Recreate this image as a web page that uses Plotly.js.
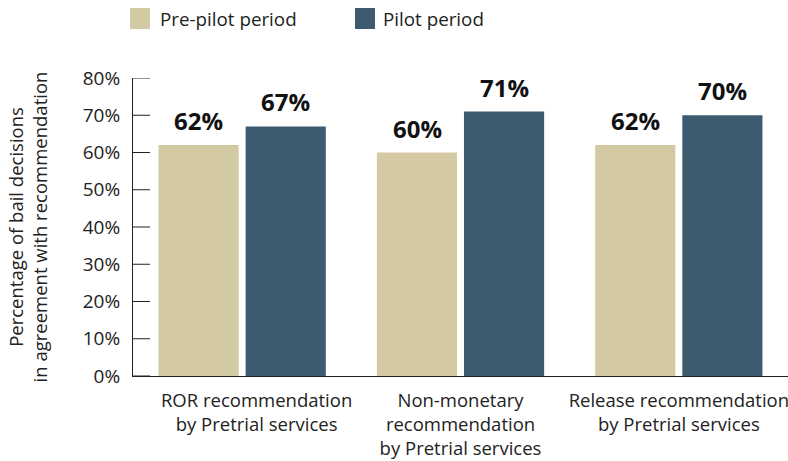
<!DOCTYPE html>
<html>
<head>
<meta charset="utf-8">
<script src="https://cdn.plot.ly/plotly-3.0.1.min.js"></script>
<style>
  html, body { margin: 0; padding: 0; background: #fff; }
  #chart { width: 788px; height: 461px; }
</style>
</head>
<body>
<div id="chart"></div>
<script>
// Data
const categories = [
  "ROR recommendation<br>by Pretrial services",
  "Non-monetary<br>recommendation<br>by Pretrial services",
  "Release recommendation<br>by Pretrial services"
];
const seriesNames = ["Pre-pilot period", "Pilot period"];
const prePilot = [62, 60, 62];
const pilot = [67, 71, 70];
const yTickVals = [0, 10, 20, 30, 40, 50, 60, 70, 80];
const yTickText = ["0%", "10%", "20%", "30%", "40%", "50%", "60%", "70%", "80%"];

const colors = ["#d3c9a3", "#3d5b6e"];
const fontFam = "Open Sans, Lato, sans-serif";

const traces = [prePilot, pilot].map((vals, i) => ({
  type: "bar",
  x: categories,
  y: vals,
  name: seriesNames[i],
  marker: { color: colors[i] },
  hoverinfo: "skip",
  showlegend: false
}));

// first category label sits slightly right of its group in the original
const pad = "&nbsp;".repeat(6);
const xTickText = categories.map((c, i) =>
  i === 0 ? c.split("<br>").map(s => pad + s).join("<br>") : c);

// value labels
const annotations = [];
[prePilot, pilot].forEach((vals, i) => {
  vals.forEach((v, j) => {
    annotations.push({
      x: categories[j], y: v, xref: "x", yref: "y",
      text: "<b>" + v + "%</b>",
      showarrow: false, yanchor: "bottom",
      xshift: i === 0 ? -43.5 : 43.5, yshift: 6,
      font: { family: fontFam, size: 24, color: "#111" }
    });
  });
});

const shapes = [];
// inward tick marks along the y axis (positioned on the y scale)
yTickVals.forEach(v => {
  shapes.push({
    type: "line", xref: "paper", yref: "y",
    x0: 0, x1: 17 / 655, y0: v, y1: v,
    line: { color: "#222", width: 1 }, layer: "above"
  });
});

// legend (drawn)
const legendX = [130, 355];
seriesNames.forEach((n, i) => {
  shapes.push({
    type: "rect", xref: "paper", yref: "paper",
    x0: (legendX[i] - 133) / 655, x1: (legendX[i] + 20 - 133) / 655,
    y0: (376 - 8) / 298, y1: (376 - 29) / 298,
    fillcolor: colors[i], line: { width: 0 }
  });
  annotations.push({
    xref: "paper", yref: "paper",
    x: (legendX[i] + (i === 0 ? 28 : 26) - 133) / 655, y: (376 - 18.5) / 298,
    xanchor: "left", yanchor: "middle", showarrow: false,
    text: n, font: { family: fontFam, size: 18.8, color: "#222" }
  });
});

const layout = {
  width: 788, height: 461,
  margin: { l: 133, r: 0, t: 78, b: 85 },
  paper_bgcolor: "#fff", plot_bgcolor: "#fff",
  barmode: "group", bargap: 0.202, bargroupgap: 0.08,
  font: { family: fontFam, size: 18.5, color: "#222" },
  xaxis: {
    type: "category",
    tickvals: categories, ticktext: xTickText,
    showline: true, linecolor: "#222", linewidth: 1,
    ticks: "", showgrid: false, zeroline: false,
    ticklabelstandoff: 8,
    tickfont: { family: fontFam, size: 18.5, color: "#222" },
    fixedrange: true
  },
  yaxis: {
    range: [0, 80],
    tickvals: yTickVals, ticktext: yTickText,
    showline: true, linecolor: "#222", linewidth: 1,
    ticks: "",
    ticklabelstandoff: 8,
    showgrid: false, zeroline: false,
    tickfont: { family: fontFam, size: 19, color: "#222" },
    title: {
      text: "Percentage of bail decisions<br>in agreement with recommendation",
      font: { family: fontFam, size: 18.5, color: "#222" },
      standoff: 30
    },
    fixedrange: true
  },
  annotations: annotations,
  shapes: shapes,
  showlegend: false
};

Plotly.newPlot("chart", traces, layout, { displayModeBar: false, staticPlot: true });
</script>
</body>
</html>
